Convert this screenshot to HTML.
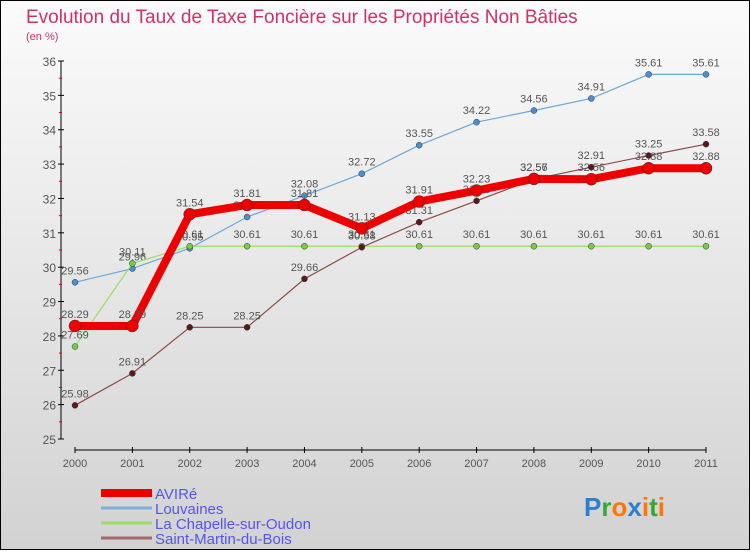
<!DOCTYPE html>
<html><head><meta charset="utf-8"><style>
body{margin:0;width:750px;height:550px;overflow:hidden;font-family:"Liberation Sans",sans-serif}
#wrap{position:absolute;left:0;top:0;width:748px;height:548px;border:1px solid #000;background:linear-gradient(#fbfbfb,#d2d2d2)}
</style></head><body>
<div id="wrap">
<svg id="c" width="748" height="548" xmlns="http://www.w3.org/2000/svg">
<text x="25" y="22" font-size="19" fill="#cc3366">Evolution du Taux de Taxe Foncière sur les Propriétés Non Bâties</text>
<text x="25" y="39" font-size="11" fill="#cc3366">(en %)</text>
</svg>
</div>
<script>
const years=["2000","2001","2002","2003","2004","2005","2006","2007","2008","2009","2010","2011"];
const yTicks=[25,26,27,28,29,30,31,32,33,34,35,36];
const avire=[28.29,28.29,31.54,31.81,31.81,31.13,31.91,32.23,32.57,32.56,32.88,32.88];
const louvaines=[29.56,29.96,30.55,31.46,32.08,32.72,33.55,34.22,34.56,34.91,35.61,35.61];
const chapelle=[27.69,30.11,30.61,30.61,30.61,30.61,30.61,30.61,30.61,30.61,30.61,30.61];
const stmartin=[25.98,26.91,28.25,28.25,29.66,30.58,31.31,31.93,32.56,32.91,33.25,33.58];
const svg=document.getElementById('c');const NS="http://www.w3.org/2000/svg";
function X(i){return 74+i*(631/(years.length-1));}
function Y(v){return 438-(v-25)*(378/11);}
function mk(t,a,p){const e=document.createElementNS(NS,t);for(const k in a)e.setAttribute(k,a[k]);(p||svg).appendChild(e);return e;}
const ya=mk('line',{x1:60,y1:Y(36),x2:60,y2:Y(25),stroke:'#000'});


yTicks.forEach(v=>{mk('line',{x1:57,y1:Y(v),x2:63,y2:Y(v),stroke:'#000'});
 if(v<36)mk('line',{x1:58,y1:Y(v+0.5),x2:61,y2:Y(v+0.5),stroke:'#e00'});
 const t=mk('text',{x:55,y:Y(v)+5,'font-size':12,fill:'#555','text-anchor':'end'});t.textContent=v;
 
 });
const xa=mk('line',{x1:X(0),y1:449,x2:X(11),y2:449,stroke:'#000'});


years.forEach((y,i)=>{mk('line',{x1:X(i),y1:446,x2:X(i),y2:452,stroke:'#000'});
 const t=mk('text',{x:X(i),y:466,'font-size':11,fill:'#555','text-anchor':'middle'});t.textContent=y;
 
 });
function series(d,col,dot,w,r,name){
 const g=mk('g',{});
 
 
 mk('polyline',{points:d.map((v,i)=>X(i)+','+Y(v)).join(' '),fill:'none',stroke:col,'stroke-width':w},g);
 d.forEach((v,i)=>{const c=mk('circle',{cx:X(i),cy:Y(v),r:r,fill:dot,stroke:'#333','stroke-width':0.5},g);
  
  
  const t=mk('text',{x:X(i),y:Y(v)-8,'font-size':11,fill:'#555','text-anchor':'middle'},g);t.textContent=v.toFixed(2);
  
  });
}
series(louvaines,'#6fa8d6','#4a90d0',1.2,3,'series-louvaines');
series(chapelle,'#99dd66','#77cc44',1.2,3,'series-la-chapelle');
series(stmartin,'#8b4a4a','#5a1a1a',1.2,3,'series-saint-martin');
series(avire,'#ee0000','#ee0000',8,6,'series-avire');
const leg=[['AVIRé','#ee0000',8],['Louvaines','#7fb0d8',3],['La Chapelle-sur-Oudon','#99dd66',3],['Saint-Martin-du-Bois','#a06a6a',3]];
leg.forEach((l,i)=>{const y=492+i*15;
 const g=mk('g',{});
 
 
 mk('line',{x1:100,y1:y,x2:151,y2:y,stroke:l[1],'stroke-width':l[2]},g);
 const t=mk('text',{x:154,y:y+6,'font-size':15,fill:'#5555ee'},g);t.textContent=l[0];});
const lg=mk('text',{x:583,y:515,'font-size':26,'font-weight':'bold',fill:'#2277cc'});


lg.innerHTML='<tspan fill="#2a7fd0">P</tspan><tspan fill="#33aa33">r</tspan><tspan fill="#ff7700">o</tspan><tspan fill="#2a7fd0">x</tspan><tspan fill="#ff7700">i</tspan><tspan fill="#33aa33">t</tspan><tspan fill="#ff7700">i</tspan>';
</script>
</body></html>
